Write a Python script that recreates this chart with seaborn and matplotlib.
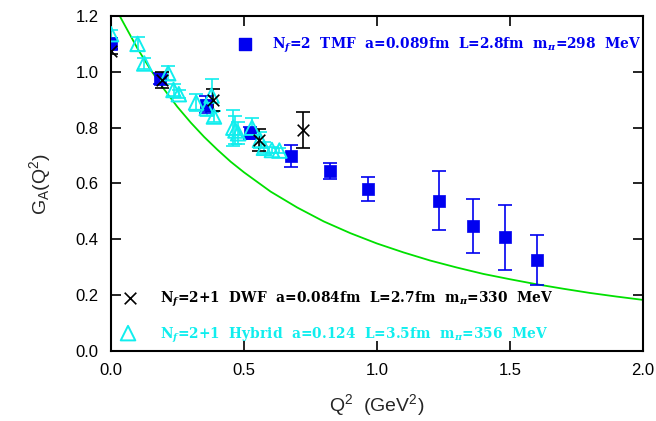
import matplotlib
matplotlib.use("Agg")
import matplotlib.pyplot as plt
import seaborn as sns
import pandas as pd

# ---- data ----
tmf_q2 = [0.0, 0.184, 0.357, 0.523, 0.677, 0.823, 0.965, 1.233, 1.360, 1.481, 1.603]
tmf_ga = [1.10, 0.975, 0.882, 0.781, 0.699, 0.645, 0.581, 0.539, 0.448, 0.407, 0.325]
tmf_err = [0.02, 0.02, 0.03, 0.02, 0.04, 0.03, 0.043, 0.104, 0.096, 0.117, 0.09]

dwf_q2 = [0.0, 0.19, 0.385, 0.557, 0.723]
dwf_ga = [1.073, 0.971, 0.90, 0.756, 0.792]
dwf_err = [0.01, 0.03, 0.04, 0.04, 0.065]

hyb_q2 = [0.0, 0.10, 0.125, 0.215, 0.235, 0.255, 0.32, 0.36, 0.378, 0.387,
          0.46, 0.468, 0.478, 0.53, 0.56, 0.575, 0.605, 0.633]
hyb_ga = [1.135, 1.10, 1.03, 0.995, 0.935, 0.92, 0.89, 0.87, 0.915, 0.84,
          0.80, 0.79, 0.78, 0.80, 0.756, 0.728, 0.72, 0.718]
hyb_err = [0.015, 0.025, 0.02, 0.025, 0.02, 0.015, 0.03, 0.03, 0.06, 0.02,
           0.065, 0.05, 0.04, 0.035, 0.03, 0.02, 0.01, 0.01]

curve_q2 = [0.03, 0.05, 0.10, 0.15, 0.20, 0.25, 0.30, 0.35, 0.40, 0.45, 0.50,
            0.60, 0.70, 0.80, 0.90, 1.00, 1.10, 1.20, 1.30, 1.40, 1.50,
            1.60, 1.70, 1.80, 1.90, 2.00]
curve_ga = [1.205, 1.170, 1.083, 1.006, 0.937, 0.874, 0.818, 0.767, 0.721, 0.678, 0.640,
            0.571, 0.514, 0.464, 0.422, 0.385, 0.353, 0.324, 0.299, 0.276, 0.257,
            0.239, 0.223, 0.208, 0.195, 0.183]

xticks = [0.0, 0.5, 1.0, 1.5, 2.0]
yticks = [0.0, 0.2, 0.4, 0.6, 0.8, 1.0, 1.2]

label_tmf = r"N$_\mathit{f}$=2  TMF  a=0.089fm  L=2.8fm  m$_\pi$=298  MeV"
label_dwf = r"N$_\mathit{f}$=2+1  DWF  a=0.084fm  L=2.7fm  m$_\pi$=330  MeV"
label_hyb = r"N$_\mathit{f}$=2+1  Hybrid  a=0.124  L=3.5fm  m$_\pi$=356  MeV"

BLUE = "#0000f0"
CYAN = "#10eeee"
GREEN = "#00e000"
BLACK = "#000000"

sns.set_style("ticks")
plt.rcParams["font.family"] = ["Liberation Sans", "DejaVu Sans"]
plt.rcParams["mathtext.fontset"] = "custom"
plt.rcParams["mathtext.rm"] = "Liberation Sans"
plt.rcParams["mathtext.it"] = "DejaVu Serif:italic:bold"

fig = plt.figure(figsize=(6.56, 4.21), dpi=100)
ax = fig.add_axes([0.1692, 0.1663, 0.9802 - 0.1692, 0.962 - 0.1663])

curve_df = pd.DataFrame({"q2": curve_q2, "ga": curve_ga})
sns.lineplot(data=curve_df, x="q2", y="ga", ax=ax, color=GREEN, lw=1.3, zorder=2)

# error bars
ax.errorbar(hyb_q2, hyb_ga, yerr=hyb_err, fmt="none", ecolor=CYAN, elinewidth=1.2,
            capsize=5, capthick=1.2, zorder=3)
ax.errorbar(tmf_q2, tmf_ga, yerr=tmf_err, fmt="none", ecolor=BLUE, elinewidth=1.2,
            capsize=5, capthick=1.2, zorder=4)
ax.errorbar(dwf_q2, dwf_ga, yerr=dwf_err, fmt="none", ecolor=BLACK, elinewidth=1.2,
            capsize=5, capthick=1.2, zorder=5)

# markers
sns.scatterplot(x=tmf_q2, y=tmf_ga, ax=ax, marker="s", s=85, color=BLUE,
                edgecolor=BLUE, linewidth=0.5, zorder=6)
sns.scatterplot(x=hyb_q2, y=hyb_ga, ax=ax, marker="^", s=110, facecolor="none",
                edgecolor=CYAN, linewidth=1.4, zorder=7)
sns.scatterplot(x=dwf_q2, y=dwf_ga, ax=ax, marker="x", s=70, color=BLACK,
                linewidth=1.2, zorder=8)

# in-plot legend
txt_font = dict(family=["DejaVu Serif"], fontweight="bold", fontsize=9.9)
ax.scatter([0.504], [1.10], marker="s", s=85, color=BLUE, zorder=9, clip_on=False)
ax.text(0.605, 1.095, label_tmf, color=BLUE, va="center", ha="left", **txt_font)
ax.scatter([0.071], [0.19], marker="x", s=70, color=BLACK, linewidth=1.2, zorder=9)
ax.text(0.184, 0.185, label_dwf, color=BLACK, va="center", ha="left", **txt_font)
ax.scatter([0.064], [0.064], marker="^", s=110, facecolor="none", edgecolor=CYAN,
           linewidth=1.4, zorder=9)
ax.text(0.184, 0.055, label_hyb, color=CYAN, va="center", ha="left", **txt_font)

ax.set_xlim(0, 2.0)
ax.set_ylim(0, 1.2)
ax.set_xticks(xticks)
ax.set_yticks(yticks)
ax.set_xticklabels([f"{v:.1f}" for v in xticks])
ax.set_yticklabels([f"{v:.1f}" for v in yticks])
ax.tick_params(direction="in", length=7, width=1.2, top=True, right=True,
               labelsize=12, pad=9, colors=BLACK)
for sp in ax.spines.values():
    sp.set_visible(True)
    sp.set_linewidth(1.5)
    sp.set_color(BLACK)

ax.set_xlabel(r"Q$^2$  (GeV$^2$)", fontsize=14, labelpad=10)
ax.set_ylabel(r"G$_\mathrm{A}$(Q$^2$)", fontsize=14, labelpad=16)

fig.savefig("out.png", dpi=100)
